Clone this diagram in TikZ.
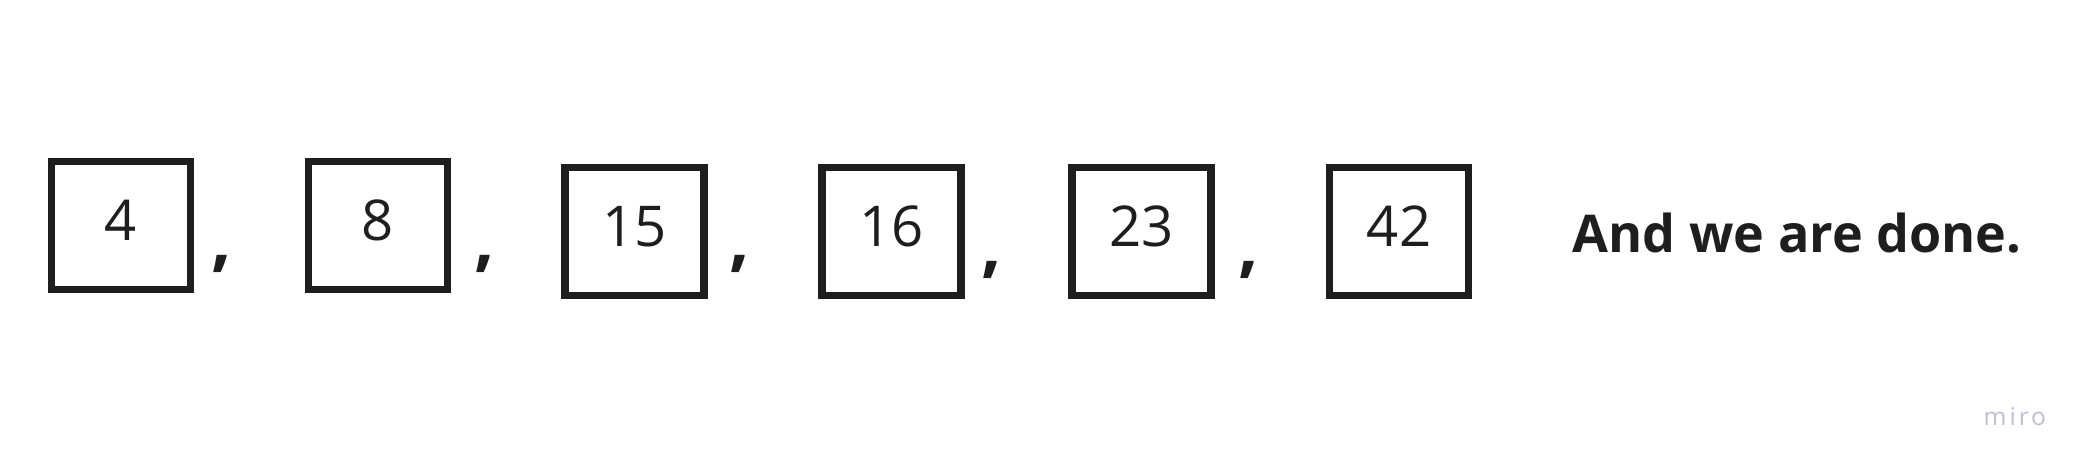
\documentclass[tikz,border=0pt]{standalone}
\usepackage{fontspec}
\setmainfont{Open Sans}
\usepackage{tikz}
\definecolor{ink}{RGB}{30,30,30}
\definecolor{logo}{RGB}{190,190,208}

\begin{document}
\begin{tikzpicture}[x=0.01cm,y=-0.01cm,font=\fontsize{16pt}{19pt}\selectfont]
\tikzset{
% Two node styles for the list: framed number and the comma after it
num box/.style={rectangle,draw=ink,line width=0.072cm,inner sep=0,outer sep=0,
  minimum width=1.39cm,minimum height=1.28cm,text depth=0.1cm,text=ink},
sep comma/.style={inner sep=0,text=ink,font=\fontsize{20pt}{24pt}\selectfont\bfseries}
}
\useasboundingbox (0,0) rectangle (2097,476);

% The numbers
\node(1)[num box] at (121,225.5) {4};
\node(2)[num box] at (378,225.5) {8};
\node(3)[num box] at (634.5,231.5) {15};
\node(4)[num box] at (891.5,231.5) {16};
\node(5)[num box] at (1141.5,231.5) {23};
\node(6)[num box] at (1399,231.5) {42};

% commas between them
\node(c1)[sep comma] at (222,263.5) {,};
\node(c2)[sep comma] at (485,263.5) {,};
\node(c3)[sep comma] at (740,263.5) {,};
\node(c4)[sep comma] at (992,270) {,};
\node(c5)[sep comma] at (1249,270) {,};

% closing remark and the logo
\node(done)[anchor=base west,inner sep=0,text=ink,font=\fontsize{14.8pt}{18pt}\selectfont\bfseries] at (1572,252) {And we are done.};
\node(miro)[anchor=base west,inner sep=0,text=logo,font=\fontsize{7pt}{8pt}\selectfont\addfontfeature{LetterSpace=12}] at (1983,425) {miro};
\end{tikzpicture}
\end{document}
